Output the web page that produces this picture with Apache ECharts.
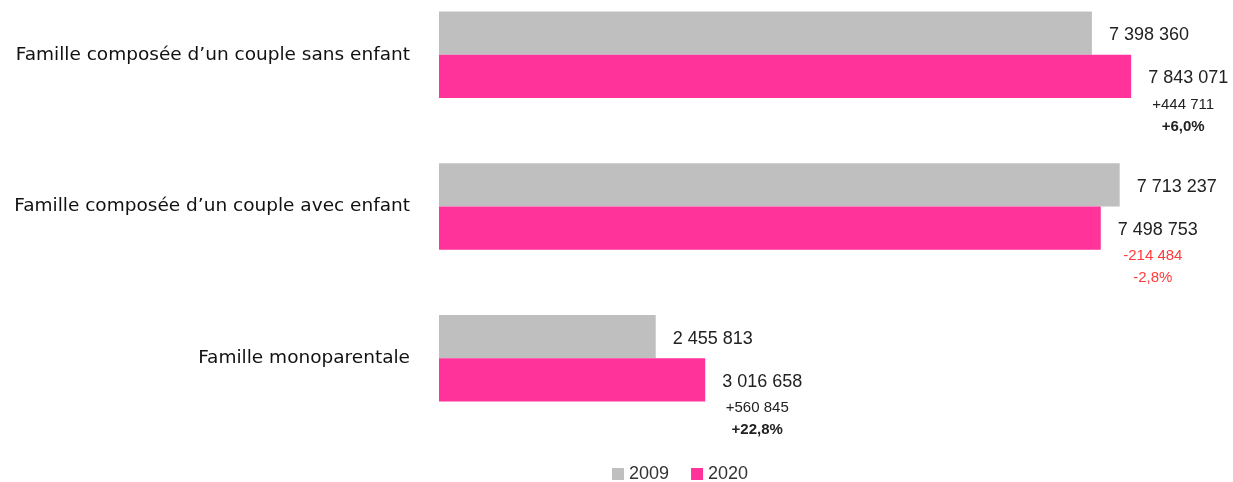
<!DOCTYPE html>
<html>
<head>
    <meta charset="utf-8" />
    <title>Familles 2009 - 2020</title>
    <script src="https://cdnjs.cloudflare.com/ajax/libs/echarts/6.0.0/echarts.min.js"></script>
    <style>
        html, body { margin: 0; padding: 0; background: #fff; }
    </style>
</head>
<body>
<div id="main" style="width: 1233px;height: 482px;"></div>

<script type="text/javascript">
    // données
    var categories = ['Famille composée d’un couple sans enfant', 'Famille composée d’un couple avec enfant', 'Famille monoparentale'];
    var years = ['2009', '2020'];
    var values2009 = [7398360, 7713237, 2455813];
    var values2020 = [7843071, 7498753, 3016658];

    function fmt(n) {
        return String(Math.abs(n)).replace(/\B(?=(\d{3})+(?!\d))/g, ' ');
    }

    var chart = echarts.init(document.getElementById('main'));

    var small = { fontFamily: 'Liberation Sans', fontSize: 15, color: '#222', align: 'center', padding: [0, 10, 0, 0] };

    var option = {
        animation: false,
        grid: {
            left: 439,
            right: 88,
            top: -21,
            height: 455,
            containLabel: false,
            outerBoundsMode: 'none'
        },
        legend: {
            data: years,
            left: 607,
            top: 460,
            itemWidth: 12,
            itemHeight: 12,
            itemGap: 22,
            icon: 'rect',
            textStyle: { fontFamily: 'Liberation Sans', fontSize: 18, color: '#333' }
        },
        xAxis: {
            type: 'value',
            min: 0,
            max: 8000000,
            show: false
        },
        yAxis: {
            type: 'category',
            data: categories,
            inverse: true,
            axisLine: { show: false },
            axisTick: { show: false },
            axisLabel: {
                margin: 29,
                padding: [5, 0, 0, 0],
                fontFamily: 'DejaVu Sans',
                fontSize: 18.5,
                color: '#111'
            }
        },
        series: [
            {
                name: '2009',
                type: 'bar',
                data: values2009,
                barGap: '0%',
                barCategoryGap: '43%',
                itemStyle: { color: '#BFBFBF' },
                label: {
                    show: true,
                    position: 'right',
                    distance: 17,
                    offset: [0, 2],
                    fontFamily: 'Liberation Sans',
                    fontSize: 18,
                    color: '#222',
                    formatter: function (p) { return fmt(p.value); }
                }
            },
            {
                name: '2020',
                type: 'bar',
                data: values2020,
                barGap: '0%',
                barCategoryGap: '43%',
                itemStyle: { color: '#FF3399' },
                label: {
                    show: true,
                    position: 'right',
                    distance: 17,
                    offset: [0, 24],
                    formatter: function (p) {
                        var i = p.dataIndex;
                        var d = values2020[i] - values2009[i];
                        var pct = (d / values2009[i] * 100).toFixed(1).replace('.', ',');
                        var sign = d >= 0 ? '+' : '-';
                        var style = d >= 0 ? ['d', 'p'] : ['dn', 'pn'];
                        return '{v|' + fmt(p.value) + '}\n{' + style[0] + '|' + sign + fmt(d) + '}\n{' + style[1] + '|' + (d >= 0 ? '+' : '') + pct + '%}';
                    },
                    rich: {
                        v: { fontFamily: 'Liberation Sans', fontSize: 18, color: '#222', lineHeight: 28, align: 'center' },
                        d: Object.assign({}, small, { lineHeight: 24 }),
                        p: Object.assign({}, small, { lineHeight: 20, fontWeight: 'bold' }),
                        dn: Object.assign({}, small, { lineHeight: 24, color: '#FF3B3B' }),
                        pn: Object.assign({}, small, { lineHeight: 20, color: '#FF3B3B' })
                    }
                }
            }
        ]
    };
    chart.setOption(option);
</script>
</body>
</html>
